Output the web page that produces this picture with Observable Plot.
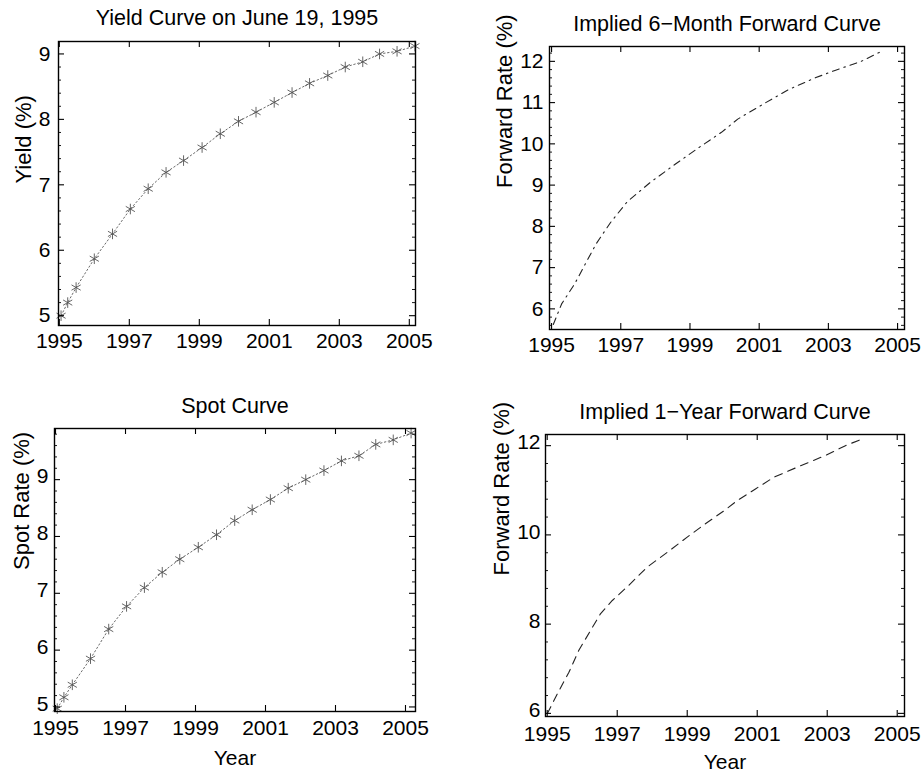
<!DOCTYPE html>
<html>
<head>
<meta charset="utf-8">
<script src="https://cdn.jsdelivr.net/npm/d3@7"></script>
<script src="https://cdn.jsdelivr.net/npm/@observablehq/plot@0.6"></script>
<style>
  html, body { margin: 0; padding: 0; background: #fff; }
  #page { position: relative; width: 922px; height: 773px; overflow: hidden; background: #fff; }
  .cell { position: absolute; }
  .cell svg { display: block; }
</style>
</head>
<body>
<div id="page">
  <div class="cell" id="p1" style="left:0px;top:0px;"></div>
  <div class="cell" id="p2" style="left:461px;top:0px;"></div>
  <div class="cell" id="p3" style="left:0px;top:380px;"></div>
  <div class="cell" id="p4" style="left:461px;top:380px;"></div>
</div>
<script>
// ---------- data ----------
const xTickYears = [1995, 1997, 1999, 2001, 2003, 2005];

// maturities (as fractional years) of the yield / spot points
const maturityYears = [1995.05, 1995.24, 1995.48, 1996.0, 1996.52, 1997.03, 1997.54, 1998.05, 1998.55, 1999.08, 1999.6,
  2000.12, 2000.62, 2001.14, 2001.65, 2002.15, 2002.67, 2003.17, 2003.67, 2004.15, 2004.65, 2005.16];
const yieldPct = [5.0, 5.2, 5.43, 5.87, 6.25, 6.63, 6.94, 7.19, 7.37, 7.57, 7.78,
  7.97, 8.11, 8.26, 8.41, 8.55, 8.67, 8.8, 8.88, 9.0, 9.04, 9.12];
const spotPct = [4.97, 5.17, 5.39, 5.85, 6.37, 6.77, 7.1, 7.37, 7.6, 7.81, 8.03,
  8.28, 8.47, 8.65, 8.85, 9.0, 9.16, 9.33, 9.42, 9.62, 9.7, 9.82];

// implied 6-month forward curve
const fwd6Years = [1995.05, 1995.29, 1995.67, 1995.95, 1996.29, 1996.71, 1997.19, 1997.86, 1998.48, 1999.24, 1999.91,
  2000.38, 2001.19, 2001.86, 2002.62, 2003.19, 2003.95, 2004.48];
const fwd6Pct = [5.62, 6.12, 6.61, 7.05, 7.58, 8.1, 8.6, 9.07, 9.45, 9.9, 10.28,
  10.6, 11.0, 11.32, 11.6, 11.78, 12.0, 12.22];

// implied 1-year forward curve
const fwd1Years = [1995.0, 1995.29, 1995.62, 1995.9, 1996.24, 1996.52, 1996.86, 1997.33, 1997.86, 1998.43, 1999.0,
  1999.52, 2000.05, 2000.43, 2000.95, 2001.47, 2002.24, 2002.95, 2003.52, 2004.0];
const fwd1Pct = [5.99, 6.44, 6.92, 7.41, 7.86, 8.23, 8.53, 8.87, 9.28, 9.61, 9.95,
  10.25, 10.54, 10.77, 11.03, 11.29, 11.55, 11.78, 12.0, 12.15];

const yTicks1 = [5, 6, 7, 8, 9];
const yTicks2 = [6, 7, 8, 9, 10, 11, 12];
const yTicks3 = [5, 6, 7, 8, 9];
const yTicks4 = [6, 8, 10, 12];

const titles = ["Yield Curve on June 19, 1995", "Implied 6\u2212Month Forward Curve", "Spot Curve", "Implied 1\u2212Year Forward Curve"];
const yLabels = ["Yield (%)", "Forward Rate (%)", "Spot Rate (%)", "Forward Rate (%)"];
const xLabel = "Year";

// ---------- helpers ----------
const FONT = "'Liberation Sans', Arial, Helvetica, sans-serif";
const zip = (xs, ys) => xs.map((x, i) => ({x, y: ys[i]}));

function minorTicks(domain, step, majors) {
  const out = [];
  const start = Math.ceil(domain[0] / step - 1e-9);
  const end = Math.floor(domain[1] / step + 1e-9);
  for (let k = start; k <= end; k++) {
    const v = +(k * step).toFixed(6);
    if (!majors.some(m => Math.abs(m - v) < 1e-6)) out.push(v);
  }
  return out;
}

function panel(o) {
  const innerW = o.w - o.ml - o.mr;
  const innerH = o.h - o.mt - o.mb;
  const yMinor = minorTicks(o.yDomain, o.minorStep, o.yTicks);
  const marks = [
    ...o.marks,
    Plot.frame({stroke: "#000", strokeWidth: 1.4}),
    // inward major ticks (bottom/top, left/right)
    Plot.tickX(xTickYears, {x: d => d, insetTop: innerH - 6, stroke: "#000", strokeWidth: 1.1}),
    Plot.tickX(xTickYears, {x: d => d, insetBottom: innerH - 6, stroke: "#000", strokeWidth: 1.1}),
    Plot.tickY(o.yTicks, {y: d => d, insetRight: innerW - 6, stroke: "#000", strokeWidth: 1.1}),
    Plot.tickY(o.yTicks, {y: d => d, insetLeft: innerW - 6, stroke: "#000", strokeWidth: 1.1}),
    // small minor ticks on the vertical edges
    Plot.tickY(yMinor, {y: d => d, insetRight: innerW - 3, stroke: "#000", strokeWidth: 0.9}),
    Plot.tickY(yMinor, {y: d => d, insetLeft: innerW - 3, stroke: "#000", strokeWidth: 0.9}),
    Plot.axisX(xTickYears, {anchor: "bottom", tickSize: 0, tickPadding: o.xPad, tickFormat: d => String(d), fontSize: 21, label: null}),
    Plot.axisY(o.yTicks, {anchor: "left", tickSize: 0, tickPadding: o.yPad, tickFormat: d => String(d), fontSize: 21, label: null, dy: o.yDy || 0}),
    Plot.text([o.title], {frameAnchor: "top", dy: o.titleDy, lineAnchor: "bottom", fontSize: 21.5, text: d => d, fill: "#000"}),
    Plot.text([o.ylabel], {frameAnchor: "left", dx: o.ylabDx, rotate: -90, fontSize: 22, text: d => d, fill: "#000"})
  ];
  if (o.xlabel) {
    marks.push(Plot.text([o.xlabel], {frameAnchor: "bottom", dy: o.xlabDy, lineAnchor: "bottom", fontSize: 21, text: d => d, fill: "#000"}));
  }
  return Plot.plot({
    width: o.w, height: o.h,
    marginLeft: o.ml, marginRight: o.mr, marginTop: o.mt, marginBottom: o.mb,
    x: {domain: o.xDomain},
    y: {domain: o.yDomain},
    style: {fontFamily: FONT, fontSize: "21px", color: "#000", background: "#fff", overflow: "visible"},
    marks
  });
}

const markerMarks = (data) => [
  Plot.line(data, {x: "x", y: "y", stroke: "#6a6a6a", strokeWidth: 1, strokeDasharray: "1.5,2.5"}),
  Plot.dot(data, {x: "x", y: "y", symbol: "asterisk", r: 5, stroke: "#555", strokeWidth: 0.9})
];

// ---------- panels ----------
document.getElementById("p1").append(panel({
  w: 461, h: 380, ml: 58, mr: 46, mt: 41, mb: 55,
  xDomain: [1994.977, 2005.177], yDomain: [4.85, 9.19],
  yTicks: yTicks1, minorStep: 0.2, xPad: 8, yPad: 8,
  title: titles[0], titleDy: -17, ylabel: yLabels[0], ylabDx: -35,
  marks: markerMarks(zip(maturityYears, yieldPct))
}));

document.getElementById("p2").append(panel({
  w: 461, h: 380, ml: 88, mr: 18, mt: 46, mb: 51,
  xDomain: [1994.94, 2005.2], yDomain: [5.5, 12.36],
  yTicks: yTicks2, minorStep: 0.2, xPad: 8, yPad: 6,
  title: titles[1], titleDy: -16, ylabel: yLabels[1], ylabDx: -45,
  marks: [Plot.line(zip(fwd6Years, fwd6Pct), {x: "x", y: "y", stroke: "#222", strokeWidth: 1.1, strokeDasharray: "7,5,1.5,5"})]
}));

document.getElementById("p3").append(panel({
  w: 461, h: 393, ml: 54, mr: 46, mt: 48, mb: 62,
  xDomain: [1994.971, 2005.286], yDomain: [4.92, 9.9],
  yTicks: yTicks3, minorStep: 0.2, xPad: 9, yPad: 6, yDy: -3,
  title: titles[2], titleDy: -16, ylabel: yLabels[2], ylabDx: -33,
  xlabel: xLabel, xlabDy: 53,
  marks: markerMarks(zip(maturityYears, spotPct))
}));

document.getElementById("p4").append(panel({
  w: 461, h: 393, ml: 84, mr: 18, mt: 54, mb: 57,
  xDomain: [1994.951, 2005.208], yDomain: [5.93, 12.25],
  yTicks: yTicks4, minorStep: 0.4, xPad: 10, yPad: 5, yDy: -3,
  title: titles[3], titleDy: -16, ylabel: yLabels[3], ylabDx: -44,
  xlabel: xLabel, xlabDy: 52,
  marks: [Plot.line(zip(fwd1Years, fwd1Pct), {x: "x", y: "y", stroke: "#222", strokeWidth: 1.1, strokeDasharray: "8,6"})]
}));
</script>
</body>
</html>
